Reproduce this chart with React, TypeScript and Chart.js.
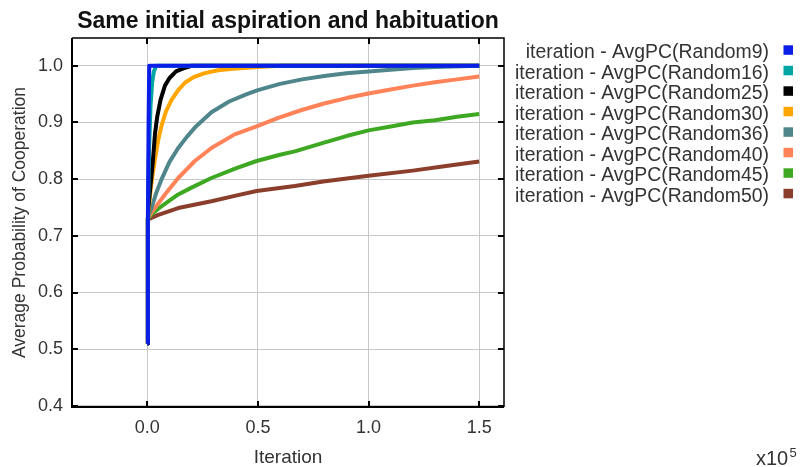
import React, { useEffect, useRef } from "react";
import { Chart, registerables } from "chart.js";

Chart.register(...registerables);

// x: iteration count, y: average probability of cooperation
const random9: [number, number][] = [
  [0, 0.51], [300, 0.73], [600, 0.9], [900, 1.0], [150000, 1.0],
];
const random16: [number, number][] = [
  [0, 0.52], [300, 0.73], [800, 0.85], [1500, 0.93], [2200, 0.97], [3000, 0.99], [4000, 1.0], [150000, 1.0],
];
const random25: [number, number][] = [
  [0, 0.51], [300, 0.73], [500, 0.75], [1500, 0.79], [2500, 0.83], [3500, 0.88], [4500, 0.91], [6000, 0.94],
  [8000, 0.965], [10000, 0.978], [13000, 0.99], [16000, 0.995], [20000, 1.0], [150000, 1.0],
];
const random30: [number, number][] = [
  [0, 0.51], [300, 0.73], [500, 0.74], [1500, 0.78], [2500, 0.81], [3500, 0.835], [5000, 0.87], [6500, 0.895],
  [8500, 0.92], [11000, 0.94], [14000, 0.957], [17000, 0.97], [21000, 0.98], [26000, 0.987], [32000, 0.992],
  [40000, 0.995], [50000, 0.998], [60000, 1.0], [150000, 1.0],
];
const random36: [number, number][] = [
  [0, 0.51], [300, 0.73], [500, 0.735], [2000, 0.75], [4000, 0.775], [6500, 0.8], [10000, 0.83], [14000, 0.855],
  [18000, 0.875], [22000, 0.893], [29000, 0.918], [37000, 0.937], [45000, 0.95], [50000, 0.957], [60000, 0.968],
  [70000, 0.976], [80000, 0.982], [90000, 0.987], [100000, 0.99], [110000, 0.993], [120000, 0.996],
  [130000, 0.998], [150000, 1.0],
];
const random40: [number, number][] = [
  [0, 0.51], [300, 0.73], [500, 0.733], [4000, 0.752], [8000, 0.773], [14000, 0.802], [21500, 0.832],
  [29000, 0.855], [39500, 0.879], [49400, 0.893], [59200, 0.908], [69800, 0.922], [79500, 0.933],
  [90000, 0.943], [100000, 0.951], [110000, 0.958], [120000, 0.965], [130000, 0.971], [140000, 0.976],
  [150000, 0.981],
];
const random45: [number, number][] = [
  [0, 0.51], [300, 0.73], [2000, 0.738], [5000, 0.748], [10000, 0.762], [14000, 0.773], [20000, 0.785],
  [29000, 0.802], [40000, 0.819], [49400, 0.832], [60000, 0.843], [66700, 0.849], [79500, 0.864],
  [90000, 0.876], [100000, 0.886], [110000, 0.893], [120000, 0.9], [130000, 0.904], [140000, 0.91],
  [150000, 0.915],
];
const random50: [number, number][] = [
  [0, 0.51], [300, 0.729], [5000, 0.737], [14000, 0.749], [29000, 0.761], [40000, 0.771], [49400, 0.779],
  [66700, 0.788], [79500, 0.796], [100000, 0.806], [120000, 0.815], [135000, 0.823], [150000, 0.831],
];

const seriesLabels = [
  "iteration - AvgPC(Random9)",
  "iteration - AvgPC(Random16)",
  "iteration - AvgPC(Random25)",
  "iteration - AvgPC(Random30)",
  "iteration - AvgPC(Random36)",
  "iteration - AvgPC(Random40)",
  "iteration - AvgPC(Random45)",
  "iteration - AvgPC(Random50)",
];
const seriesData = [random9, random16, random25, random30, random36, random40, random45, random50];
const seriesColors = ["#0a1ee8", "#00a5a5", "#000000", "#ffa500", "#4f868b", "#ff8258", "#3fa823", "#8b3e2c"];

const xTicks = [0, 50000, 100000, 150000];
const yTicks = [0.4, 0.5, 0.6, 0.7, 0.8, 0.9, 1.0];

const FONT = "'Liberation Sans', Arial, Helvetica, sans-serif";

const framePlugin = {
  id: "frameAndLegend",
  afterDraw(chart: any) {
    const { ctx, chartArea } = chart;
    const { left, right, top, bottom } = chartArea;
    const xs = chart.scales.x;
    const ys = chart.scales.y;
    ctx.save();
    // frame
    ctx.strokeStyle = "#000";
    ctx.lineWidth = 1.5;
    ctx.beginPath();
    ctx.moveTo(left, top);
    ctx.lineTo(right, top);
    ctx.lineTo(right, bottom);
    ctx.stroke();
    ctx.lineWidth = 2;
    ctx.beginPath();
    ctx.moveTo(left, top);
    ctx.lineTo(left, bottom);
    ctx.lineTo(right, bottom);
    ctx.stroke();
    // inner ticks
    ctx.lineWidth = 2;
    const tl = 6;
    xTicks.forEach((v) => {
      const px = Math.round(xs.getPixelForValue(v));
      ctx.beginPath();
      ctx.moveTo(px, top);
      ctx.lineTo(px, top + tl);
      ctx.moveTo(px, bottom);
      ctx.lineTo(px, bottom - tl);
      ctx.stroke();
    });
    yTicks.forEach((v) => {
      const py = Math.round(ys.getPixelForValue(v));
      ctx.beginPath();
      ctx.moveTo(left, py);
      ctx.lineTo(left + tl, py);
      ctx.moveTo(right, py);
      ctx.lineTo(right - tl, py);
      ctx.stroke();
    });
    // legend
    ctx.font = `19.4px ${FONT}`;
    ctx.textAlign = "right";
    ctx.textBaseline = "alphabetic";
    seriesLabels.forEach((label, i) => {
      const base = 58.3 + i * 20.5;
      ctx.fillStyle = "#333";
      ctx.fillText(label, 769, base);
      ctx.fillStyle = seriesColors[i];
      ctx.fillRect(783.5, base - 13, 9.5, 9.5);
    });
    // exponent label
    ctx.fillStyle = "#333";
    ctx.textAlign = "left";
    ctx.font = `20px ${FONT}`;
    ctx.fillText("x10", 756, 465);
    ctx.font = `13px ${FONT}`;
    ctx.fillText("5", 789.5, 457);
    ctx.restore();
  },
};

export default function App() {
  const canvasRef = useRef<HTMLCanvasElement | null>(null);

  useEffect(() => {
    document.body.style.margin = "0";
    const canvas = canvasRef.current;
    if (!canvas) return;
    const chart = new Chart(canvas, {
      type: "line",
      data: {
        datasets: seriesData.map((d, i) => ({
          label: seriesLabels[i],
          data: d.map(([x, y]) => ({ x, y })),
          borderColor: seriesColors[i],
          backgroundColor: seriesColors[i],
          borderWidth: 4,
          pointRadius: 0,
          tension: 0,
          fill: false,
          borderJoinStyle: "round" as const,
        })),
      },
      options: {
        animation: false,
        responsive: false,
        devicePixelRatio: 1,
        layout: { padding: { left: 0, right: 297, top: 0, bottom: 0 } },
        plugins: {
          legend: { display: false },
          tooltip: { enabled: false },
          title: {
            display: true,
            text: "Same initial aspiration and habituation",
            fullSize: false,
            color: "#111",
            font: { family: FONT, size: 23, weight: "bold", lineHeight: 1.2 },
            padding: { top: 8, bottom: 2.4 },
          },
        },
        scales: {
          x: {
            type: "linear",
            min: -34000,
            max: 161200,
            afterFit: (s: any) => {
              s.height = 60;
            },
            afterBuildTicks: (s: any) => {
              s.ticks = xTicks.map((v) => ({ value: v }));
            },
            grid: { color: "#c8c8c8", lineWidth: 1, drawTicks: false },
            border: { display: false },
            ticks: {
              color: "#333",
              font: { family: FONT, size: 18 },
              padding: 10,
              maxRotation: 0,
              callback: (v: any) => (Number(v) / 1e5).toFixed(1),
            },
            title: {
              display: true,
              text: "Iteration",
              color: "#333",
              font: { family: FONT, size: 19, lineHeight: 1 },
              padding: { top: 0, bottom: 0 },
            },
          },
          y: {
            type: "linear",
            min: 0.398,
            max: 1.049,
            afterFit: (s: any) => {
              s.width = 72;
            },
            afterBuildTicks: (s: any) => {
              s.ticks = yTicks.map((v) => ({ value: v }));
            },
            grid: { color: "#c8c8c8", lineWidth: 1, drawTicks: false },
            border: { display: false },
            ticks: {
              color: "#333",
              font: { family: FONT, size: 18 },
              padding: 9,
              callback: (v: any) => Number(v).toFixed(1),
            },
            title: {
              display: true,
              text: "Average Probability of Cooperation",
              color: "#333",
              font: { family: FONT, size: 17.5, lineHeight: 1.2 },
              padding: { top: 9.5, bottom: 0 },
            },
          },
        },
      },
      plugins: [framePlugin],
    });
    return () => chart.destroy();
  }, []);

  return (
    <div style={{ width: 801, height: 467 }}>
      <canvas ref={canvasRef} width={801} height={467} style={{ display: "block" }} />
    </div>
  );
}
